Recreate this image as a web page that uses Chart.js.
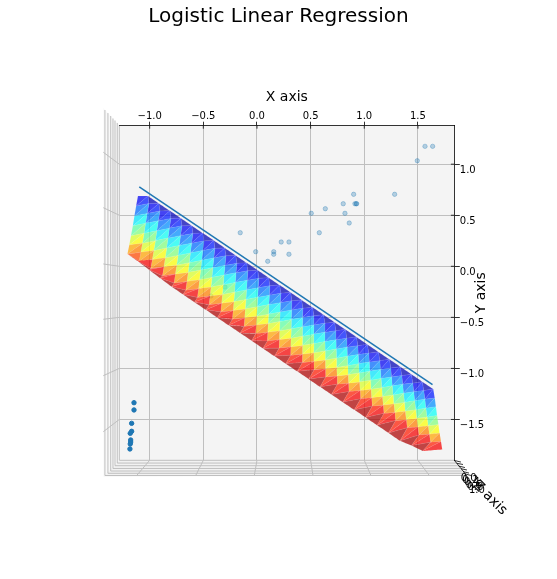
<!DOCTYPE html>
<html lang="en">
  <head>
    <meta charset="UTF-8" />
    <title>Logistic Linear Regression</title>
    <script src="https://cdn.jsdelivr.net/npm/chart.js"></script>
    <style>
      body { margin: 0; background: #fff; }
      canvas { display: block; }
    </style>
  </head>
  <body>
    <canvas id="surfaceChart" width="557" height="579"></canvas>

    <script>
        const xTicks = [-1.0, -0.5, 0.0, 0.5, 1.0, 1.5];
        const xTickLabels = ['−1.0', '−0.5', '0.0', '0.5', '1.0', '1.5'];
        const yTicks = [1.0, 0.5, 0.0, -0.5, -1.0, -1.5];
        const yTickLabels = ['1.0', '0.5', '0.0', '−0.5', '−1.0', '−1.5'];
        const zTickLabels = ['0.0', '0.2', '0.4', '0.6', '0.8', '1.0'];

        // points above the boundary (label 1, seen faint through depth shading)
        const farPointsX = [-0.156, -0.012, 0.156, 0.156, 0.226, 0.298, 0.100, 0.298, 1.566, 1.637, 1.494, 1.283, 0.901, 0.804, 0.913, 0.929, 0.925, 0.820, 0.637, 0.506, 0.860, 0.581, -0.298, -0.429];
        const farPointsY = [0.329, 0.143, 0.143, 0.118, 0.238, 0.238, 0.049, 0.118, 1.175, 1.175, 1.034, 0.705, 0.705, 0.613, 0.613, 0.613, 0.613, 0.519, 0.564, 0.519, 0.424, 0.329, -0.203, -0.291];

        // points with label 0, on the near side
        const nearPointsX = [-1.146, -1.146, -1.168, -1.168, -1.181, -1.177, -1.177, -1.181, -1.184];
        const nearPointsY = [-1.336, -1.407, -1.538, -1.616, -1.636, -1.701, -1.721, -1.740, -1.789];

        const lineX = [-1.097, 1.636];
        const lineY = [0.777, -1.160];

        // mesh vertices read row by row, first row is the blue edge
        const surfaceX = [
            [null, -1.016, -0.914, -0.811, -0.709, -0.607, -0.505, -0.402, -0.300, -0.198, -0.096, 0.007, 0.109, 0.211, 0.314, 0.416, 0.518, 0.620, 0.723, 0.825, 0.927, 1.029, 1.132, 1.234, 1.336, 1.439, 1.541, 1.643],
            [-1.109, -1.007, -0.904, -0.802, -0.699, -0.597, -0.494, -0.392, -0.289, -0.187, -0.085, 0.018, 0.120, 0.223, 0.325, 0.428, 0.530, 0.633, 0.735, 0.837, 0.940, 1.042, 1.145, 1.247, 1.350, 1.452, 1.554, 1.657],
            [-1.126, -1.023, -0.919, -0.816, -0.712, -0.609, -0.505, -0.402, -0.298, -0.195, -0.091, 0.012, 0.116, 0.219, 0.323, 0.426, 0.530, 0.633, 0.737, 0.840, 0.944, 1.047, 1.151, 1.254, 1.358, 1.461, 1.565, 1.668],
            [-1.142, -1.038, -0.933, -0.829, -0.724, -0.620, -0.515, -0.411, -0.306, -0.202, -0.097, 0.007, 0.112, 0.216, 0.321, 0.425, 0.530, 0.634, 0.739, 0.843, 0.948, 1.052, 1.157, 1.261, 1.366, 1.470, 1.574, 1.679],
            [-1.157, -1.052, -0.946, -0.841, -0.735, -0.630, -0.524, -0.419, -0.313, -0.208, -0.102, 0.003, 0.109, 0.214, 0.320, 0.425, 0.531, 0.636, 0.742, 0.847, 0.953, 1.058, 1.164, 1.269, 1.375, 1.480, 1.585, 1.691],
            [-1.174, -1.067, -0.961, -0.854, -0.748, -0.641, -0.535, -0.428, -0.322, -0.215, -0.109, -0.002, 0.104, 0.211, 0.317, 0.424, 0.530, 0.637, 0.743, 0.850, 0.956, 1.063, 1.169, 1.276, 1.382, 1.489, 1.596, 1.702],
            [-1.190, -1.082, -0.975, -0.867, -0.760, -0.652, -0.544, -0.437, -0.329, -0.222, -0.114, -0.007, 0.101, 0.209, 0.316, 0.424, 0.531, 0.639, 0.747, 0.854, 0.962, 1.069, 1.177, 1.285, 1.392, 1.500, 1.607, 1.715],
            [-1.207, -1.098, -0.990, -0.881, -0.772, -0.664, -0.555, -0.446, -0.338, -0.229, -0.120, -0.012, 0.097, 0.206, 0.314, 0.423, 0.532, 0.640, 0.749, 0.858, 0.966, 1.075, 1.184, 1.292, 1.401, 1.510, 1.618, 1.727],
            [null, -1.114, -1.007, -0.901, -0.795, -0.689, -0.582, -0.476, -0.369, -0.263, -0.157, -0.050, 0.056, 0.162, 0.268, 0.375, 0.482, 0.588, 0.694, 0.800, 0.907, 1.013, 1.119, 1.226, 1.333, 1.439, 1.544, null]
        ];
        const surfaceY = [
            [null, 0.689, 0.616, 0.544, 0.471, 0.398, 0.325, 0.253, 0.180, 0.107, 0.034, -0.038, -0.111, -0.184, -0.257, -0.329, -0.402, -0.475, -0.548, -0.620, -0.693, -0.766, -0.839, -0.911, -0.984, -1.057, -1.130, -1.202],
            [0.689, 0.616, 0.542, 0.469, 0.396, 0.322, 0.249, 0.176, 0.103, 0.029, -0.044, -0.117, -0.191, -0.264, -0.337, -0.411, -0.484, -0.557, -0.630, -0.704, -0.777, -0.850, -0.924, -0.997, -1.070, -1.144, -1.217, -1.290],
            [0.591, 0.518, 0.445, 0.373, 0.300, 0.227, 0.154, 0.081, 0.008, -0.064, -0.137, -0.210, -0.283, -0.356, -0.428, -0.501, -0.574, -0.647, -0.720, -0.792, -0.865, -0.938, -1.011, -1.084, -1.156, -1.229, -1.302, -1.375],
            [0.493, 0.421, 0.348, 0.276, 0.204, 0.131, 0.059, -0.014, -0.086, -0.158, -0.231, -0.303, -0.375, -0.448, -0.520, -0.593, -0.665, -0.737, -0.810, -0.882, -0.954, -1.027, -1.099, -1.171, -1.244, -1.316, -1.389, -1.461],
            [0.395, 0.323, 0.251, 0.179, 0.107, 0.035, -0.037, -0.109, -0.181, -0.253, -0.325, -0.397, -0.469, -0.541, -0.613, -0.685, -0.757, -0.829, -0.901, -0.973, -1.045, -1.117, -1.189, -1.261, -1.333, -1.405, -1.477, -1.549],
            [0.297, 0.225, 0.154, 0.083, 0.011, -0.060, -0.132, -0.203, -0.275, -0.346, -0.418, -0.489, -0.561, -0.632, -0.704, -0.775, -0.847, -0.918, -0.990, -1.061, -1.133, -1.204, -1.276, -1.347, -1.419, -1.490, -1.562, -1.633],
            [0.209, 0.138, 0.066, -0.005, -0.076, -0.148, -0.219, -0.290, -0.361, -0.433, -0.504, -0.575, -0.647, -0.718, -0.789, -0.861, -0.932, -1.003, -1.074, -1.146, -1.217, -1.288, -1.360, -1.431, -1.502, -1.574, -1.645, -1.716],
            [0.120, 0.049, -0.022, -0.093, -0.164, -0.234, -0.305, -0.376, -0.447, -0.518, -0.589, -0.660, -0.731, -0.802, -0.872, -0.943, -1.014, -1.085, -1.156, -1.227, -1.298, -1.369, -1.440, -1.511, -1.581, -1.652, -1.723, -1.794],
            [null, 0.051, -0.033, -0.117, -0.200, -0.275, -0.351, -0.426, -0.503, -0.578, -0.654, -0.729, -0.804, -0.879, -0.954, -1.029, -1.105, -1.180, -1.256, -1.331, -1.406, -1.481, -1.557, -1.632, -1.709, -1.756, -1.809, null]
        ];
        const surfaceZ = [0.02, 0.12, 0.25, 0.37, 0.48, 0.60, 0.73, 0.87, 1.00];
        // the two triangles of a mesh square catch the colour map a little apart
        const squareZShift = [-0.018, 0.018];

        // 3d box around the plot, in data units of the x and y scales
        const leftPaneX = [-1.432, -1.283, -1.283, -1.432];
        const leftPaneY = [1.550, 1.381, -1.900, -2.059];
        const floorPaneX = [-1.283, 1.839, 1.948, -1.432];
        const floorPaneY = [-1.900, -1.900, -2.049, -2.059];
        const zGridX = [-1.417, -1.389, -1.363, -1.342, -1.323, -1.302];
        const zGridTopY = [1.531, 1.501, 1.472, 1.448, 1.428, 1.404];
        const zGridBottomY = [-2.049, -2.027, -2.005, -1.980, -1.953, -1.927];
        const zGridRightX = [1.948, 1.929, 1.911, 1.892, 1.873, 1.855];
        const yGridEnds = [1.117, 0.574, 0.023, -0.519, -1.071, -1.620];
        const xGridEnds = [-1.121, -0.571, -0.025, 0.522, 1.062, 1.606];
        const zTickStartX = [1.841, 1.861, 1.880, 1.901, 1.920, 1.943];
        const zTickStartY = [-1.902, -1.929, -1.956, -1.982, -2.010, -2.034];
        const zTickEndX = [1.901, 1.920, 1.938, 1.957, 1.976, 1.994];
        const zTickEndY = [-1.917, -1.941, -1.971, -1.995, -2.025, -2.049];
        const zLabelX = [1.973, 1.988, 2.004, 2.019, 2.035, 2.050];
        const zLabelY = [-2.073, -2.097, -2.120, -2.144, -2.167, -2.191];
        const zTitleX = 2.171;
        const zTitleY = -2.269;

        const FONT = "'DejaVu Sans'";
        const GRID = '#bfbfbf';
        Chart.defaults.font.family = FONT;
        Chart.defaults.color = '#000';

        function jet(t, alpha) {
            const band = v => Math.round(255 * Math.min(1, Math.max(0, 1.5 - Math.abs(4 * t - v))));
            return `rgba(${band(3)},${band(2)},${band(1)},${alpha})`;
        }

        function toPoints(xs, ys) {
            return xs.map((x, i) => ({ x: x, y: ys[i] }));
        }

        function triangleDataset(a, b, c, zShift) {
            const corners = [a, b, c, a];
            const z = (surfaceZ[a[0]] + surfaceZ[b[0]] + surfaceZ[c[0]]) / 3 + zShift;
            return {
                data: corners.map(v => ({ x: surfaceX[v[0]][v[1]], y: surfaceY[v[0]][v[1]] })),
                showLine: true,
                fill: 'shape',
                tension: 0.0001,
                backgroundColor: jet(z, 0.72),
                borderColor: 'rgba(255,255,255,0.14)',
                borderWidth: 0.5,
                pointRadius: 0
            };
        }

        function surfaceDatasets() {
            const sets = [];
            const lastRow = surfaceZ.length - 1;
            const lastCol = surfaceX[1].length - 1;
            for (let c = 1; c < lastCol; c++) {
                sets.push(triangleDataset([0, c], [0, c + 1], [1, c], 0));
            }
            for (let r = 1; r < lastRow; r++) {
                for (let c = 0; c < lastCol; c++) {
                    if (surfaceX[r + 1][c] === null) {
                        sets.push(triangleDataset([r, c], [r - 1, c + 1], [r, c + 1], squareZShift[0]));
                        continue;
                    }
                    sets.push(triangleDataset([r, c], [r - 1, c + 1], [r + 1, c], squareZShift[0]));
                    sets.push(triangleDataset([r, c + 1], [r - 1, c + 1], [r + 1, c], squareZShift[1]));
                }
            }
            sets.push(triangleDataset([lastRow - 1, 0], [lastRow, 1], [lastRow - 1, 1], 0));
            for (let c = 1; c < lastCol - 1; c++) {
                sets.push(triangleDataset([lastRow, c], [lastRow, c + 1], [lastRow - 1, c + 1], 0));
            }
            return sets;
        }

        const datasets = [
            {
                data: toPoints(farPointsX, farPointsY),
                backgroundColor: 'rgba(31,119,180,0.3)',
                borderColor: 'rgba(31,119,180,0.3)',
                borderWidth: 1,
                pointRadius: 2.2
            },
            ...surfaceDatasets(),
            {
                data: toPoints(lineX, lineY),
                showLine: true,
                borderColor: '#1f77b4',
                borderWidth: 1.5,
                pointRadius: 0
            },
            {
                data: toPoints(nearPointsX, nearPointsY),
                backgroundColor: '#1f77b4',
                borderColor: '#1f77b4',
                borderWidth: 1,
                pointRadius: 2.2
            }
        ];
        // lower order is drawn on top
        datasets.forEach((d, i) => { d.order = datasets.length - i; });

        const boxPlugin = {
            id: 'box',
            beforeDraw(chart) {
                const { ctx, chartArea, scales: { x, y } } = chart;
                const polygon = (xs, ys, color) => {
                    ctx.beginPath();
                    xs.forEach((v, i) => ctx.lineTo(x.getPixelForValue(v), y.getPixelForValue(ys[i])));
                    ctx.closePath();
                    ctx.fillStyle = color;
                    ctx.fill();
                };
                const segment = (x0, y0, x1, y1, color, width) => {
                    ctx.beginPath();
                    ctx.moveTo(x.getPixelForValue(x0), y.getPixelForValue(y0));
                    ctx.lineTo(x.getPixelForValue(x1), y.getPixelForValue(y1));
                    ctx.strokeStyle = color;
                    ctx.lineWidth = width;
                    ctx.stroke();
                };
                ctx.save();
                polygon(leftPaneX, leftPaneY, '#f9f9f9');
                polygon(floorPaneX, floorPaneY, '#f2f2f2');
                ctx.fillStyle = '#f4f4f4';
                ctx.fillRect(chartArea.left, chartArea.top, chartArea.width, chartArea.height);
                zGridX.forEach((v, i) => {
                    segment(v, zGridTopY[i], v, zGridBottomY[i], GRID, 1);
                    segment(v, zGridBottomY[i], zGridRightX[i], zGridBottomY[i], GRID, 1);
                });
                yTicks.forEach((v, i) => segment(x.min, v, leftPaneX[0], yGridEnds[i], GRID, 1));
                xTicks.forEach((v, i) => segment(v, y.min, xGridEnds[i], floorPaneY[2], GRID, 1));
                segment(x.min, y.min, x.max, y.min, GRID, 1);
                segment(x.min, y.min, x.min, y.max, GRID, 1);
                segment(zTickStartX[0], zTickStartY[0], zTickStartX[5], zTickStartY[5], '#000', 0.8);
                zTickStartX.forEach((v, i) => segment(v, zTickStartY[i], zTickEndX[i], zTickEndY[i], '#000', 0.8));
                ctx.restore();
            },
            afterDatasetsDraw(chart) {
                // matplotlib 3d ticks cross the spines, Chart.js only draws the outer half
                const { ctx, chartArea, scales: { x, y } } = chart;
                ctx.save();
                ctx.strokeStyle = '#000';
                ctx.lineWidth = 0.8;
                ctx.beginPath();
                xTicks.forEach(v => {
                    ctx.moveTo(x.getPixelForValue(v), chartArea.top);
                    ctx.lineTo(x.getPixelForValue(v), chartArea.top + 3.4);
                });
                yTicks.forEach(v => {
                    ctx.moveTo(chartArea.right, y.getPixelForValue(v));
                    ctx.lineTo(chartArea.right - 3.4, y.getPixelForValue(v));
                });
                ctx.stroke();
                ctx.restore();
            },
            afterDraw(chart) {
                const { ctx, chartArea, scales: { x, y } } = chart;
                ctx.save();
                ctx.fillStyle = '#000';
                ctx.textAlign = 'center';
                ctx.textBaseline = 'middle';
                ctx.font = `10px ${FONT}`;
                zTickLabels.forEach((label, i) => {
                    ctx.fillText(label, x.getPixelForValue(zLabelX[i]), y.getPixelForValue(zLabelY[i]));
                });
                ctx.font = `14px ${FONT}`;
                ctx.save();
                ctx.translate(481, (chartArea.top + chartArea.bottom) / 2);
                ctx.rotate(-Math.PI / 2);
                ctx.fillText('Y axis', 0, 0);
                ctx.restore();
                ctx.translate(x.getPixelForValue(zTitleX), y.getPixelForValue(zTitleY));
                ctx.rotate(Math.PI / 4);
                ctx.fillText('Z axis', 0, 0);
                ctx.restore();
            }
        };

        new Chart(document.getElementById('surfaceChart'), {
            type: 'scatter',
            data: { datasets: datasets },
            plugins: [boxPlugin],
            options: {
                responsive: false,
                animation: false,
                events: [],
                layout: { padding: { left: 0, bottom: 118.7, right: 0, top: 0 } },
                plugins: {
                    legend: { display: false },
                    tooltip: { enabled: false },
                    title: {
                        display: true,
                        text: 'Logistic Linear Regression',
                        color: '#000',
                        font: { size: 20, weight: 'normal' },
                        padding: { top: 5, bottom: 0 }
                    }
                },
                scales: {
                    x: {
                        position: 'top',
                        min: -1.283,
                        max: 1.839,
                        afterBuildTicks: scale => { scale.ticks = xTicks.map(v => ({ value: v })); },
                        afterFit: scale => { scale.height = 96.3; },
                        title: {
                            display: true,
                            text: 'X axis',
                            color: '#000',
                            font: { size: 14 },
                            padding: { top: 59.6, bottom: 0 }
                        },
                        ticks: {
                            padding: -1,
                            maxRotation: 0,
                            autoSkip: false,
                            font: { size: 10 },
                            callback: (v, i) => xTickLabels[i]
                        },
                        grid: { color: GRID, lineWidth: 1, tickColor: '#000', tickWidth: 0.8, tickLength: 3.6 },
                        border: { color: '#000', width: 0.8 }
                    },
                    y: {
                        position: 'right',
                        min: -1.9,
                        max: 1.381,
                        afterBuildTicks: scale => { scale.ticks = yTicks.map(v => ({ value: v })); },
                        afterFit: scale => { scale.width = 102.7; },
                        ticks: {
                            padding: 0,
                            labelOffset: 6,
                            autoSkip: false,
                            font: { size: 10 },
                            callback: (v, i) => yTickLabels[i]
                        },
                        grid: { color: GRID, lineWidth: 1, tickColor: '#000', tickWidth: 0.8, tickLength: 5.5 },
                        border: { color: '#000', width: 0.8 }
                    },
                    // empty axis that only reserves the room left of the plot, so the title stays centred on the page
                    leftGutter: {
                        type: 'linear',
                        position: 'left',
                        afterFit: scale => { scale.width = 119.3; },
                        ticks: { display: false },
                        grid: { display: false, drawTicks: false },
                        border: { display: false }
                    }
                }
            }
        });
    </script>
  </body>
</html>
